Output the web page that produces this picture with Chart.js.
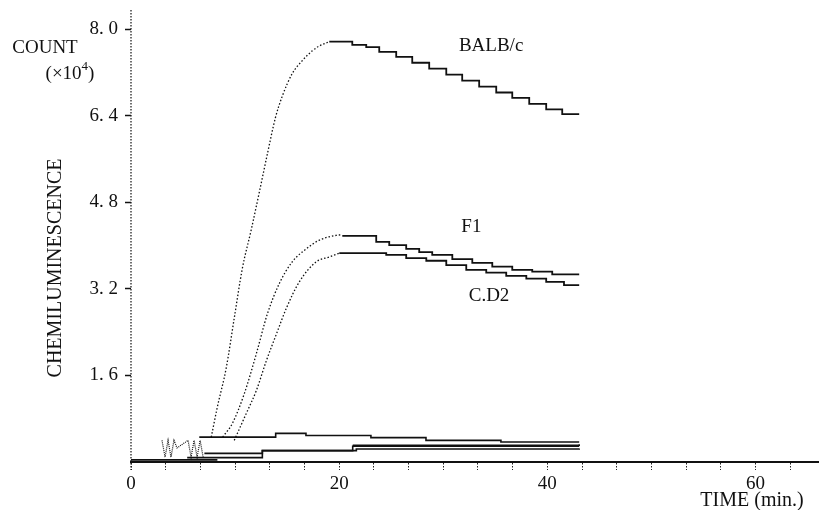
<!DOCTYPE html>
<html>
<head>
<meta charset="utf-8">
<script src="https://cdn.jsdelivr.net/npm/chart.js@4/dist/chart.umd.min.js"></script>
<style>
  body { margin: 0; background: #fff; }
</style>
</head>
<body>
<canvas id="grafico" width="819" height="510"></canvas>
<script>
// time (min) / count (x10^4)
const balbRiseT = [7.71, 8.29, 9.15, 9.92, 10.69, 11.56, 12.32, 13.12, 13.87, 14.53, 15.49, 16.46, 17.42, 18.09, 19.05];
const balbRiseV = [0.46, 1.01, 1.74, 2.66, 3.57, 4.30, 4.98, 5.71, 6.36, 6.76, 7.18, 7.42, 7.60, 7.69, 7.77];
const balbFallT = [19.05, 21.26, 22.6, 23.85, 25.48, 27.02, 28.65, 30.29, 31.82, 33.45, 35.09, 36.63, 38.26, 39.89, 41.43, 43.06];
const balbFallV = [7.77, 7.71, 7.67, 7.58, 7.49, 7.38, 7.27, 7.16, 7.05, 6.94, 6.83, 6.73, 6.62, 6.52, 6.43, 6.43];

const f1RiseT = [8.80, 9.73, 10.88, 12.04, 13.09, 14.25, 15.49, 16.84, 18.09, 19.72, 20.3];
const f1RiseV = [0.46, 0.71, 1.26, 2.00, 2.73, 3.30, 3.70, 3.94, 4.10, 4.19, 4.20];
const f1FallT = [20.3, 23.56, 24.81, 26.44, 27.69, 28.94, 30.87, 32.79, 34.71, 36.63, 38.55, 40.47, 43.06];
const f1FallV = [4.18, 4.07, 4.01, 3.94, 3.88, 3.83, 3.75, 3.68, 3.61, 3.55, 3.52, 3.47, 3.47];

const cd2RiseT = [9.92, 11.08, 12.04, 13.0, 13.96, 14.92, 16.17, 17.8, 19.05, 20.01];
const cd2RiseV = [0.40, 0.90, 1.32, 1.87, 2.36, 2.84, 3.33, 3.70, 3.79, 3.86];
const cd2FallT = [20.01, 24.52, 26.44, 28.37, 30.29, 32.21, 34.13, 36.05, 37.98, 39.89, 41.6, 43.06];
const cd2FallV = [3.86, 3.83, 3.77, 3.72, 3.64, 3.55, 3.50, 3.44, 3.39, 3.33, 3.27, 3.27];

// low curves near the baseline
const ctrl1T = [6.56, 13.9, 16.81, 23.05, 28.34, 35.54, 43.06];
const ctrl1V = [0.46, 0.53, 0.49, 0.45, 0.40, 0.37, 0.37];
const ctrl2T = [7.05, 12.62, 21.65, 43.06];
const ctrl2V = [0.16, 0.21, 0.24, 0.25];
const ctrl3T = [5.4, 8.3, 12.62, 21.3, 43.06];
const ctrl3V = [0.08, 0.08, 0.21, 0.29, 0.29];
const ctrl4T = [21.3, 43.06];
const ctrl4V = [0.31, 0.33];
const ctrl5T = [0, 8.3];
const ctrl5V = [0.04, 0.04];
// noisy start (hatched patch at left)
const noiseT = [2.98, 3.27, 3.56, 3.84, 4.13, 4.42, 5.48, 5.77, 6.06, 6.35, 6.64, 6.93];
const noiseV = [0.40, 0.09, 0.40, 0.09, 0.40, 0.26, 0.40, 0.09, 0.40, 0.09, 0.40, 0.09];

const yTicks = [1.6, 3.2, 4.8, 6.4, 8.0];
const xTicks = [];
for (let k = 0; k <= 19; k++) xTicks.push(k * 10 / 3);
const xLabels = [0, 20, 40, 60];

const ink = '#111';
const pts = (t, v) => t.map((x, i) => ({ x: x, y: v[i] }));

function rise(t, v) {
    return { data: pts(t, v), borderColor: ink, borderWidth: 1.3, borderDash: [1.5, 2],
             cubicInterpolationMode: 'monotone', pointRadius: 0 };
}
function steps(t, v, w) {
    return { data: pts(t, v), borderColor: ink, borderWidth: w, stepped: 'before', pointRadius: 0 };
}

const textos = {
    id: 'textos',
    afterDraw(chart) {
        const { ctx, scales: { x, y } } = chart;
        ctx.save();
        // dotted y axis
        ctx.strokeStyle = '#222';
        ctx.lineWidth = 1.3;
        ctx.setLineDash([1.5, 1.5]);
        ctx.beginPath();
        ctx.moveTo(x.left, 10);
        ctx.lineTo(x.left, 470);
        ctx.stroke();
        ctx.setLineDash([]);

        ctx.fillStyle = ink;
        ctx.textBaseline = 'middle';
        ctx.textAlign = 'center';
        ctx.font = '19px "Liberation Serif"';
        ctx.fillText('BALB/c', x.getPixelForValue(34.6), y.getPixelForValue(7.69));
        ctx.fillText('F1', x.getPixelForValue(32.7), y.getPixelForValue(4.34));
        ctx.fillText('C.D2', x.getPixelForValue(34.4), y.getPixelForValue(3.06));

        ctx.fillText('COUNT', 45, 48);
        // (x10^4)
        ctx.textAlign = 'left';
        const a = '(\u00d710', b = '4', c = ')';
        ctx.font = '19px "Liberation Serif"';
        const wa = ctx.measureText(a).width;
        ctx.font = '13px "Liberation Serif"';
        const wb = ctx.measureText(b).width;
        ctx.font = '19px "Liberation Serif"';
        const wc = ctx.measureText(c).width;
        let px = 70 - (wa + wb + wc) / 2;
        ctx.fillText(a, px, 74);
        ctx.font = '13px "Liberation Serif"';
        ctx.fillText(b, px + wa, 67);
        ctx.font = '19px "Liberation Serif"';
        ctx.fillText(c, px + wa + wb, 74);

        ctx.textAlign = 'center';
        ctx.font = '20px "Liberation Serif"';
        ctx.fillText('TIME (min.)', 752, 501);

        ctx.translate(56, 268);
        ctx.rotate(-Math.PI / 2);
        ctx.font = '20px "Liberation Serif"';
        ctx.fillText('CHEMILUMINESCENCE', 0, 0);
        ctx.restore();
    }
};

new Chart(document.getElementById('grafico'), {
    type: 'line',
    data: {
        datasets: [
            rise(balbRiseT, balbRiseV), steps(balbFallT, balbFallV, 1.8),
            rise(f1RiseT, f1RiseV), steps(f1FallT, f1FallV, 1.8),
            rise(cd2RiseT, cd2RiseV), steps(cd2FallT, cd2FallV, 1.8),
            steps(ctrl1T, ctrl1V, 1.6), steps(ctrl2T, ctrl2V, 1.6), steps(ctrl3T, ctrl3V, 1.6),
            steps(ctrl4T, ctrl4V, 1.6), steps(ctrl5T, ctrl5V, 1.6),
            { data: pts(noiseT, noiseV), borderColor: ink, borderWidth: 1.2, borderDash: [1, 1], pointRadius: 0 }
        ]
    },
    options: {
        responsive: false,
        animation: false,
        layout: { padding: { top: 14, right: 0, left: 0, bottom: 0 } },
        plugins: { legend: { display: false }, tooltip: { enabled: false } },
        scales: {
            x: {
                type: 'linear', min: 0, max: 66.1,
                afterBuildTicks: s => { s.ticks = xTicks.map(v => ({ value: v })); },
                afterFit: s => { s.height = 48; },
                border: { display: true, color: ink, width: 2 },
                grid: { drawOnChartArea: false, tickLength: 8, tickColor: '#222', tickWidth: 1, tickBorderDash: [1.5, 1.5] },
                ticks: {
                    autoSkip: false, maxRotation: 0, padding: 3, color: ink,
                    font: { family: 'Liberation Serif', size: 19 },
                    callback: v => {
                        const n = Math.round(v);
                        return (Math.abs(v - n) < 1e-6 && xLabels.includes(n)) ? String(n) : '';
                    }
                }
            },
            y: {
                min: 0, max: 8.2,
                afterBuildTicks: s => { s.ticks = yTicks.map(v => ({ value: v })); },
                afterFit: s => { s.width = 131; },
                border: { display: false },
                grid: { drawOnChartArea: false, tickLength: 6, tickWidth: 1.5, tickColor: ink },
                ticks: {
                    padding: 7, color: ink,
                    font: { family: 'Liberation Serif', size: 19 },
                    callback: v => v.toFixed(1).replace('.', '. ')
                }
            }
        }
    },
    plugins: [textos]
});
</script>
</body>
</html>
